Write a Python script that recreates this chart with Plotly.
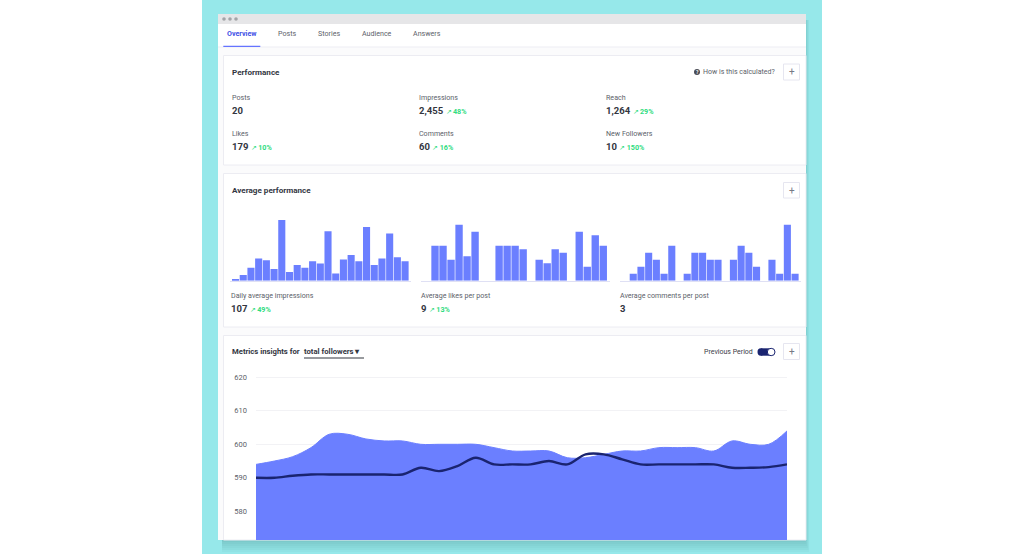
import plotly.graph_objects as go

W = 1024
H = 554

# daily bars, left to right
impressions = [8, 27, 62, 107, 98, 56, 291, 42, 75, 62, 93, 82, 237, 35, 102, 123, 93, 258, 75, 106, 226, 112, 93]
likes = [0, 10, 10, 6, 16, 7, 14, 0, 0, 10, 10, 10, 9, 0, 6, 5, 9, 8, 0, 14, 4, 13, 10]
comments = [0, 1, 2, 4, 3, 1, 5, 0, 1, 4, 4, 3, 3, 0, 3, 5, 4, 2, 0, 3, 1, 8, 1]

# followers chart
days = list(range(30))
followers = [594, 595, 596.3, 599, 603, 603, 601.6, 601, 601, 600, 600, 600, 600, 599, 598,
             598, 598, 596, 596, 597, 598, 598, 599, 599, 599, 598, 601, 600, 600, 604]
previous = [590, 590, 590.6, 591, 591, 591, 591, 591, 591, 593, 592, 593.5, 596, 594, 594,
            594, 595, 594, 597, 597, 595.5, 594, 594, 594, 594, 594, 593, 593, 593.2, 594]
follower_ticks = [580, 590, 600, 610, 620]

# performance figures: label, value, trend
perf_cells = [
    ("Posts", "20", ""), ("Impressions", "2,455", "48%"), ("Reach", "1,264", "29%"),
    ("Likes", "179", "10%"), ("Comments", "60", "16%"), ("New Followers", "10", "150%"),
]
avg_cells = [
    ("Daily average impressions", "107", "49%"),
    ("Average likes per post", "9", "13%"),
    ("Average comments per post", "3", ""),
]
tabs = ["Overview", "Posts", "Stories", "Audience", "Answers"]

BLUE = "#6b7fff"
NAVY = "#1a2470"
GREEN = "#2fdc80"
DARK = "#33363f"
GREY = "#5c5f6a"
BORDER = "#ececf2"
FONT = "Roboto"


def px(x):
    return x / W


def py(y):
    return 1 - y / H


shapes = []
notes = []


def rect(x0, y0, x1, y1, fill, line=None, kind="rect"):
    shapes.append(dict(type=kind, xref="paper", yref="paper", x0=px(x0), x1=px(x1), y0=py(y0), y1=py(y1),
                       fillcolor=fill, line=dict(color=line or fill, width=1 if line else 0), layer="below"))


def text(x, y, s, size=7.1, color=GREY, font=FONT):
    notes.append(dict(xref="paper", yref="paper", x=px(x), y=py(y), text=s, showarrow=False,
                      xanchor="left", yanchor="middle", align="left", borderpad=0, borderwidth=0,
                      font=dict(size=size, color=color, family=font)))


def centered(x, y, s, size, color):
    notes.append(dict(xref="paper", yref="paper", x=px(x), y=py(y), text=s, showarrow=False,
                      xanchor="center", yanchor="middle", borderpad=0, borderwidth=0,
                      font=dict(size=size, color=color, family=FONT)))


def plus(y0, y1):
    rect(783.5, y0, 799.5, y1, "#ffffff", "#e6e6f0")
    centered(791.5, (y0 + y1) / 2, "+", 10, "#777a85")


def value_text(x, y, value, trend):
    s = "<b>%s</b>" % value
    if trend:
        s += " <span style='color:%s;font-size:7.2px'>↗\u2009<b>%s</b></span>" % (GREEN, trend)
    text(x, y, s, size=9.5, color=DARK)


# page background and window
rect(202, 0, 822, 554, "#96e8ea")
for i in range(1, 7):
    rect(222, 20, 805 + i * 0.7, 540 + 2 * i, "rgba(30,80,80,0.035)")
rect(218, 14, 806, 540, "#fbfbfc")
rect(218, 14, 806, 24, "#e6e6e8")
rect(218, 24, 806, 47, "#ffffff")
rect(218, 46.5, 806, 47.5, "#edeef4")
rect(223.3, 45.7, 260.3, 47, "#6574ff")
for dot in [224, 230, 236]:
    rect(dot - 1.8, 17.2, dot + 1.8, 20.8, "#a3a4a8", kind="circle")

# panels
for top, bottom in [(55.5, 165), (173.5, 327), (335.5, 540)]:
    rect(223.5, top, 806, bottom, "#ffffff", BORDER)

# tabs
for name, x in zip(tabs, [227, 278, 318, 362, 413]):
    if name == "Overview":
        text(x, 33.5, "<b>%s</b>" % name, color="#3f50e6")
    else:
        text(x, 33.5, name)

# performance panel
text(232, 72, "<b>Performance</b>", size=8.1, color=DARK)
rect(694, 69, 700, 75, "#4a4c55", kind="circle")
centered(697, 72, "<b>?</b>", 5, "#ffffff")
text(703, 72, "How is this calculated?", size=7)
plus(64, 80)
for i, (label, value, trend) in enumerate(perf_cells):
    x = [232, 419, 606][i % 3]
    row = i // 3
    text(x, 97.5 + 36 * row, label)
    value_text(x, 110.3 + 36 * row, value, trend)

# average panel
text(232, 190, "<b>Average performance</b>", size=8.1, color=DARK)
plus(182.5, 198)
for (label, value, trend), x in zip(avg_cells, [230.5, 421, 620]):
    text(x, 295, label)
    value_text(x, 308, value, trend)

# metrics panel
text(232, 351.5, "<b>Metrics insights for</b>", size=7.7, color=DARK)
text(304, 351.5, "<b>total followers ▾</b>", size=7.7, color=DARK)
rect(304, 357.5, 364, 358.5, DARK)
text(704, 351.5, "Previous Period", size=7, color="#3a3d48")
rect(757.5, 348.3, 764, 355.7, NAVY, kind="circle")
rect(761, 348.3, 771, 355.7, NAVY)
rect(767.3, 348.3, 775, 355.7, "#ffffff", NAVY, kind="circle")
plus(343.5, 359.5)

fig = go.Figure()
bars = [(impressions, "x", "y"), (likes, "x2", "y2"), (comments, "x3", "y3")]
for vals, xa, ya in bars:
    fig.add_trace(go.Bar(x=list(range(len(vals))), y=vals, xaxis=xa, yaxis=ya,
                         marker=dict(color=BLUE, line=dict(width=0))))
fig.add_trace(go.Scatter(x=days, y=followers, xaxis="x4", yaxis="y4", mode="lines", fill="tozeroy",
                         fillcolor=BLUE, line=dict(color=BLUE, width=1, shape="spline", smoothing=1)))
fig.add_trace(go.Scatter(x=days, y=previous, xaxis="x4", yaxis="y4", mode="lines",
                         line=dict(color=NAVY, width=2.4, shape="spline", smoothing=1)))


def bar_x(left, right, lo, hi, anchor):
    return dict(domain=[px(left), px(right)], range=[lo, hi], anchor=anchor, showgrid=False, zeroline=False,
                showticklabels=False, ticks="", showline=True, linecolor="#dfe0f4", linewidth=1, automargin=False)


def bar_y(top, anchor):
    return dict(domain=[py(280.7), py(210)], range=[0, top], anchor=anchor, visible=False, automargin=False)


fig.update_layout(
    template="none",
    width=W, height=H, margin=dict(l=0, r=0, t=0, b=0, pad=0), autosize=False,
    paper_bgcolor="#ffffff", plot_bgcolor="rgba(0,0,0,0)", showlegend=False,
    bargap=0.08, shapes=shapes, annotations=notes, font=dict(family=FONT),
    xaxis=bar_x(230, 410.7, -0.72, 22.73, "y"),
    yaxis=bar_y(339, "x"),
    xaxis2=bar_x(421, 610, -0.75, 22.84, "y2"),
    yaxis2=bar_y(20.2, "x2"),
    xaxis3=bar_x(620, 800.7, -0.72, 22.73, "y3"),
    yaxis3=bar_y(10.1, "x3"),
    xaxis4=dict(domain=[px(256), px(787)], range=[0, 29], anchor="y4", visible=False, automargin=False),
    yaxis4=dict(domain=[py(540), py(376)], range=[571.43, 620.39], anchor="x4", tickvals=follower_ticks,
                showgrid=True, gridcolor="#f2f2f5", gridwidth=1, zeroline=False, showline=False, automargin=False,
                ticks="", ticklabelstandoff=8, tickfont=dict(size=7.5, color=GREY, family=FONT)),
)

fig.write_html("out.html", config=dict(displayModeBar=False),
               post_script="document.body.style.margin='0';")
